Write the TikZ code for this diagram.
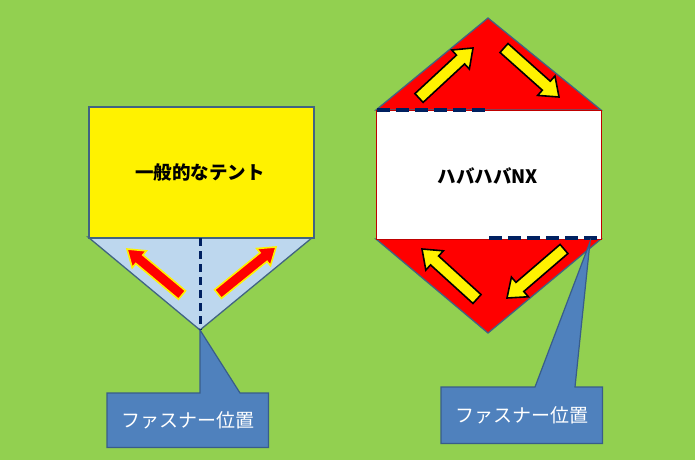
\documentclass[tikz,border=0pt]{standalone}
\usepackage{fontspec}
\newfontfamily\jp{Noto Sans CJK JP}
\usetikzlibrary{calc}
\definecolor{bg}{RGB}{146,208,80}
\definecolor{edge}{RGB}{65,100,130}
\definecolor{lblue}{RGB}{189,215,238}
\definecolor{callfill}{RGB}{79,129,189}
\definecolor{calledge}{RGB}{56,93,138}
\definecolor{zip}{RGB}{0,32,96}
\newcommand{\blockarrow}[7]{% fill, outline, tail, head, shaft half, head half, head length
  \path coordinate (ba-a) at (#3);
  \path coordinate (ba-b) at (#4);
  \coordinate (ba-c) at ($(ba-b)!#7!(ba-a)$);
  \filldraw[fill=#1,draw=#2,line width=1.6pt,line join=miter]
    ($(ba-a)!#5!90:(ba-b)$) -- ($(ba-c)!#5!90:(ba-b)$) -- ($(ba-c)!#6!90:(ba-b)$)
    -- (ba-b) -- ($(ba-c)!#6!-90:(ba-b)$) -- ($(ba-c)!#5!-90:(ba-b)$)
    -- ($(ba-a)!#5!-90:(ba-b)$) -- cycle;}
\tikzset{
  lbl/.style={font=\jp\bfseries\fontsize{18.5}{22}\selectfont, text=black},
  calltext/.style={font=\jp\fontsize{19}{22}\selectfont, text=white},
  callout/.style={fill=callfill, draw=calledge, line width=1.2pt, line join=miter},
  zipline/.style={draw=zip, line width=3.5pt},
}
\begin{document}
\begin{tikzpicture}[x=1pt,y=-1pt]
\fill[bg] (0,0) rectangle (695,460);
\useasboundingbox (0,0) rectangle (695,460);
% ---------- left tent ----------
\coordinate (lA) at (200,330);
\filldraw[fill=lblue, draw=edge, line width=1.3pt] (88,237) -- (313,237) -- (lA) -- cycle;
\node[draw=edge, line width=1.5pt, fill=yellow, minimum width=225pt, minimum height=131pt, inner sep=0pt, anchor=north west] (tent1) at (88,106) {};
\node[lbl] (tent1lbl) at (200,172) {一般的なテント};
\draw[zipline, line width=3pt, dash pattern=on 8pt off 5pt] (200,238) -- (lA);
\blockarrow{red}{yellow}{182,295}{127,249}{5.5pt}{11pt}{16pt}
\blockarrow{red}{yellow}{218,294}{276,247}{5.5pt}{11pt}{16pt}
% left callout
\node[minimum width=161pt, minimum height=54pt, inner sep=0pt, anchor=north west] (call1) at (107,393) {};
\path[callout] (call1.north west) -- (200,393) -- (lA) -- (240,393) -- (call1.north east) -- (call1.south east) -- (call1.south west) -- cycle;
\node[calltext] (call1lbl) at (call1.center) {ファスナー位置};
% ---------- right tent ----------
\coordinate (rT) at (488,18);
\coordinate (rB) at (488,333);
\filldraw[fill=red, draw=edge, line width=1.3pt] (376,110) -- (rT) -- (601,110) -- cycle;
\filldraw[fill=red, draw=edge, line width=1.3pt] (376,239) -- (rB) -- (601,239) -- cycle;
\node[draw={rgb,255:red,192;green,0;blue,0}, line width=1.2pt, fill=white, minimum width=225pt, minimum height=129pt, inner sep=0pt, anchor=north west] (tent2) at (376,110) {};
\node[lbl] (tent2lbl) at (488,176) {ハバハバNX};
\draw[zipline, dash pattern=on 13pt off 6pt] (377,110) -- (488,110);
\draw[zipline, dash pattern=on 13pt off 6pt] (489,238) -- (601,238);
\blockarrow{yellow}{black}{419,98}{473,48}{6pt}{13pt}{17pt}
\blockarrow{yellow}{black}{504,48}{559,97}{6pt}{13pt}{17pt}
\blockarrow{yellow}{black}{477,299}{422,249}{6pt}{13pt}{17pt}
\blockarrow{yellow}{black}{564,249}{507,298}{6pt}{13pt}{17pt}
% right callout
\coordinate (rP) at (590,242);
\node[minimum width=161pt, minimum height=56pt, inner sep=0pt, anchor=north west] (call2) at (441,387) {};
\path[callout] (call2.north west) -- (535,387) -- (rP) -- (575,387) -- (call2.north east) -- (call2.south east) -- (call2.south west) -- cycle;
\node[calltext] (call2lbl) at (call2.center) {ファスナー位置};
\end{tikzpicture}
\end{document}
